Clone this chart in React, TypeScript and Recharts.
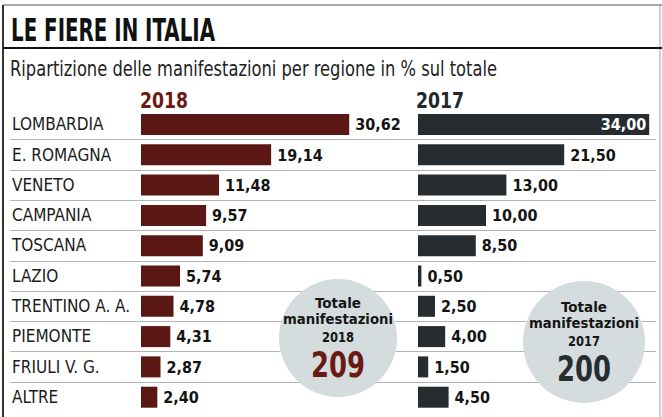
import React from 'react';
import { BarChart, Bar, XAxis, YAxis, LabelList } from 'recharts';

const regions = [
  'LOMBARDIA',
  'E. ROMAGNA',
  'VENETO',
  'CAMPANIA',
  'TOSCANA',
  'LAZIO',
  'TRENTINO A. A.',
  'PIEMONTE',
  'FRIULI V. G.',
  'ALTRE',
];
const values2018 = [30.62, 19.14, 11.48, 9.57, 9.09, 5.74, 4.78, 4.31, 2.87, 2.4];
const values2017 = [34.0, 21.5, 13.0, 10.0, 8.5, 0.5, 2.5, 4.0, 1.5, 4.5];
const years = ['2018', '2017'];
const totals = [209, 200];
const title = 'LE FIERE IN ITALIA';
const subtitle = 'Ripartizione delle manifestazioni per regione in % sul totale';
const caption = ['Totale', 'manifestazioni'];

const data = regions.map((region, i) => ({
  region,
  v2018: values2018[i],
  v2017: values2017[i],
}));

const COND = "'DejaVu Sans Condensed', 'Liberation Sans Narrow', 'Arial Narrow', 'DejaVu Sans', sans-serif";
const MAROON = '#5a1713';
const MAROON_TXT = '#6a1a14';
const DARK = '#272c31';
const CIRCLE = '#d5dcde';

const PLOT_TOP = 109;
const PLOT_BOTTOM = 5;
const CH_H = 417;
const ROW_H = (CH_H - PLOT_TOP - PLOT_BOTTOM) / regions.length;

const fmt = (v: number) => v.toFixed(2).replace('.', ',');

const RegionTick = (props: any) => {
  const { y, payload } = props;
  return (
    <text
      x={12}
      y={y}
      dy="0.36em"
      fontSize={17}
      fill="#1c1c1c"
      style={{ fontFamily: COND, fontStretch: 'condensed' }}
    >
      {payload.value}
    </text>
  );
};

const label2018 = (props: any) => {
  const { x, y, width, height, value } = props;
  return (
    <text
      x={x + width + 6}
      y={y + height / 2}
      dy="0.36em"
      fontSize={16}
      fontWeight={700}
      fill="#141414"
      style={{ fontFamily: COND, fontStretch: 'condensed' }}
    >
      {fmt(value)}
    </text>
  );
};

const label2017 = (props: any) => {
  const { x, y, width, height, value } = props;
  const inside = width > 150;
  return (
    <text
      x={inside ? x + width - 3 : x + width + 6}
      y={y + height / 2}
      dy="0.36em"
      textAnchor={inside ? 'end' : 'start'}
      fontSize={16}
      fontWeight={700}
      fill={inside ? '#ffffff' : '#141414'}
      style={{ fontFamily: COND, fontStretch: 'condensed' }}
    >
      {fmt(value)}
    </text>
  );
};

const TotalCircle = ({ cx, cy, r, year, total, color }: any) => (
  <g style={{ fontFamily: COND, fontStretch: 'condensed' }}>
    <circle cx={cx} cy={cy} r={r} fill={CIRCLE} />
    <text x={cx} y={cy - 30} textAnchor="middle" fontSize={13.5} fontWeight={700} fill="#151515" textLength={46} lengthAdjust="spacingAndGlyphs">
      {caption[0]}
    </text>
    <text x={cx} y={cy - 14} textAnchor="middle" fontSize={13.5} fontWeight={700} fill="#151515" textLength={110} lengthAdjust="spacingAndGlyphs">
      {caption[1]}
    </text>
    <text x={cx} y={cy + 4} textAnchor="middle" fontSize={13.5} fontWeight={700} fill="#151515" textLength={32} lengthAdjust="spacingAndGlyphs">
      {year}
    </text>
    <text x={cx} y={cy + 39} textAnchor="middle" fontSize={35} fontWeight={700} fill={color} textLength={54} lengthAdjust="spacingAndGlyphs">
      {String(total)}
    </text>
  </g>
);

export default function App() {
  const separators: number[] = [];
  for (let i = 1; i < regions.length; i++) {
    separators.push(Math.round(PLOT_TOP + ROW_H * i));
  }
  return (
    <div
      style={{
        position: 'absolute',
        left: 0,
        top: 0,
        width: 662,
        height: 417,
        background: '#ffffff',
        fontFamily: COND,
        overflow: 'hidden',
      }}
    >
      <div style={{ position: 'absolute', left: 0, top: 0 }}>
        <BarChart
          width={662}
          height={CH_H}
          layout="vertical"
          data={data}
          margin={{ top: PLOT_TOP, bottom: PLOT_BOTTOM, left: 0, right: 249 }}
        >
          <XAxis type="number" domain={[0, 40]} hide />
          <YAxis
            type="category"
            dataKey="region"
            width={141}
            axisLine={false}
            tickLine={false}
            tick={<RegionTick />}
            interval={0}
          />
          <Bar dataKey="v2018" fill={MAROON} barSize={21} isAnimationActive={false}>
            <LabelList dataKey="v2018" content={label2018} />
          </Bar>
        </BarChart>
      </div>
      <div style={{ position: 'absolute', left: 418, top: 0 }}>
        <BarChart
          width={238}
          height={CH_H}
          layout="vertical"
          data={data}
          margin={{ top: PLOT_TOP, bottom: PLOT_BOTTOM, left: 0, right: 0 }}
        >
          <XAxis type="number" domain={[0, 35]} hide />
          <YAxis type="category" dataKey="region" hide />
          <Bar dataKey="v2017" fill={DARK} barSize={21} isAnimationActive={false}>
            <LabelList dataKey="v2017" content={label2017} />
          </Bar>
        </BarChart>
      </div>
      <svg
        width={662}
        height={417}
        style={{ position: 'absolute', left: 0, top: 0, pointerEvents: 'none', fontFamily: COND, fontStretch: 'condensed' }}
      >
        {separators.map((y) => (
          <rect key={'s' + y} x={10} y={y} width={646} height={1} fill="#b4b4b4" />
        ))}
        <line x1={3} y1={5} x2={662} y2={5} stroke="#555" strokeWidth={1.2} />
        <line x1={3} y1={5} x2={3} y2={417} stroke="#333" strokeWidth={2} />
        <line x1={660} y1={5} x2={660} y2={417} stroke="#9a9a9a" strokeWidth={1} />
        <line x1={3} y1={48} x2={662} y2={48} stroke="#111" strokeWidth={2} />
        <text x={11} y={41} fontSize={32} fontWeight={700} fill="#111" textLength={204} lengthAdjust="spacingAndGlyphs">
          {title}
        </text>
        <text x={10} y={76} fontSize={22} fill="#222" textLength={487} lengthAdjust="spacingAndGlyphs">
          {subtitle}
        </text>
        <text x={140} y={108} fontSize={22} fontWeight={700} fill={MAROON_TXT} textLength={48} lengthAdjust="spacingAndGlyphs">
          {years[0]}
        </text>
        <text x={416} y={108} fontSize={22} fontWeight={700} fill="#23282d" textLength={48} lengthAdjust="spacingAndGlyphs">
          {years[1]}
        </text>
        <TotalCircle cx={338} cy={338} r={59} year={years[0]} total={totals[0]} color={MAROON_TXT} />
        <TotalCircle cx={584} cy={342} r={61} year={years[1]} total={totals[1]} color={DARK} />
      </svg>
    </div>
  );
}
